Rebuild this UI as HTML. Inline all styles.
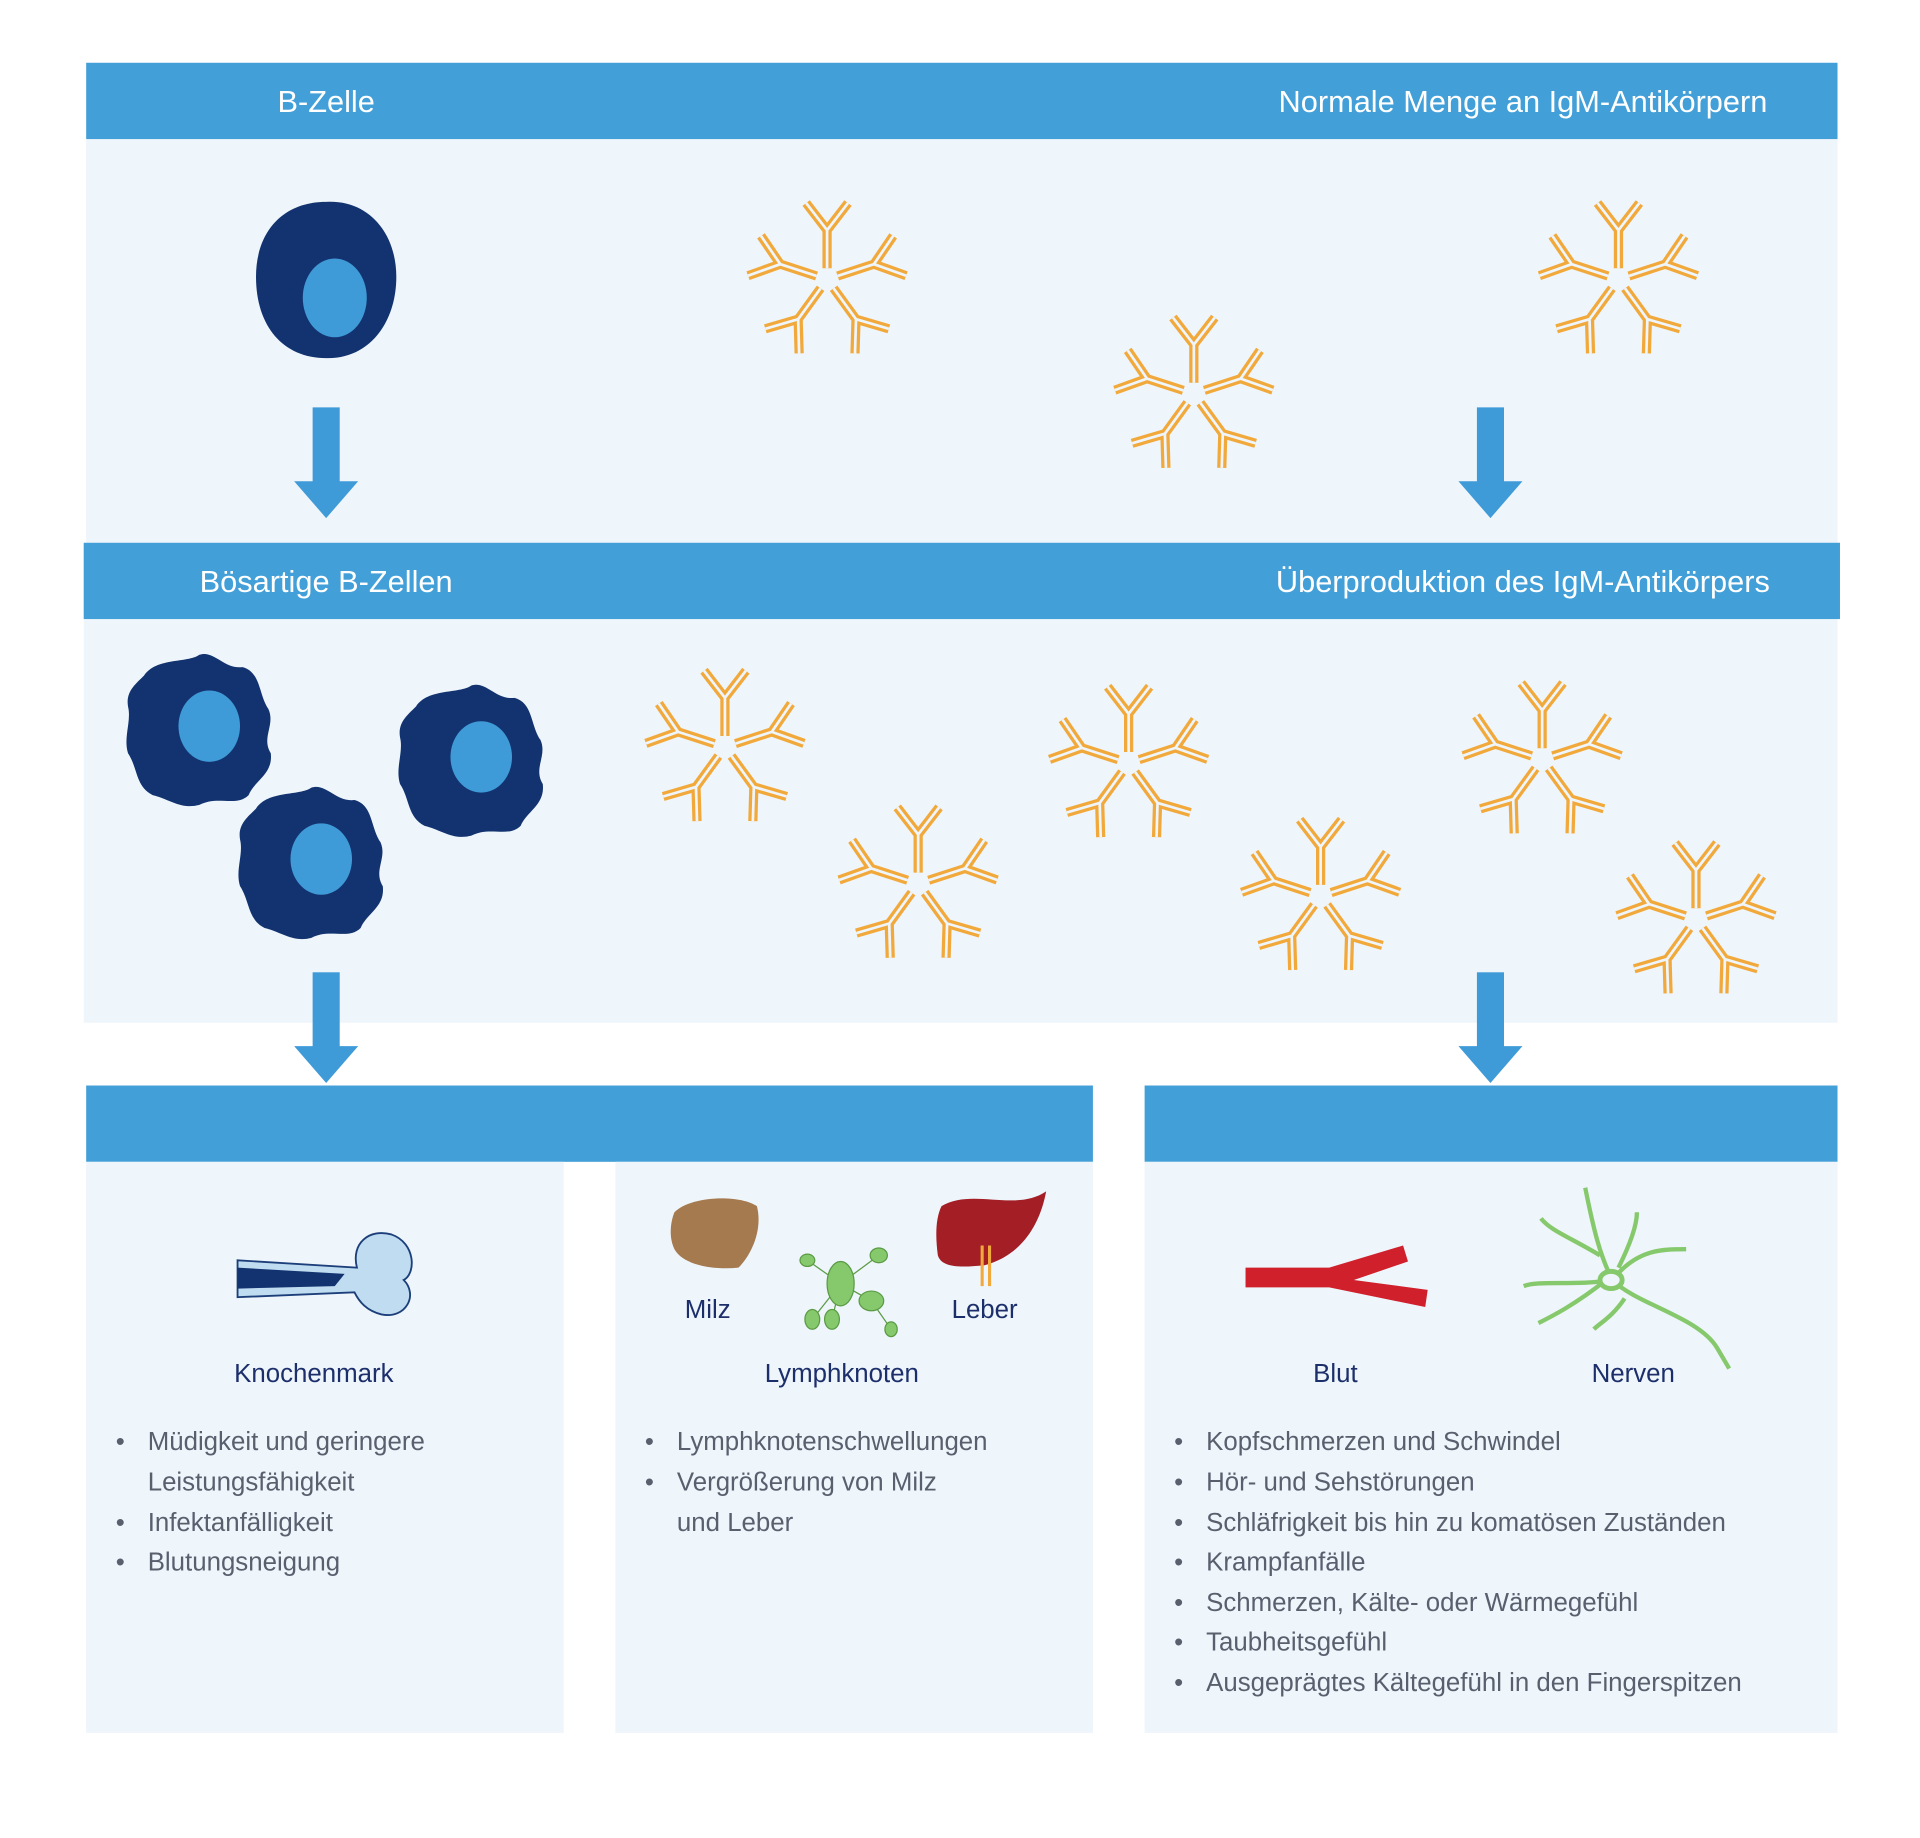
<!DOCTYPE html>
<html><head><meta charset="utf-8"><style>
html,body{margin:0;padding:0;background:#fff;width:1920px;height:1838px;overflow:hidden}
svg{display:block}
text{font-family:"Liberation Sans",sans-serif}
.h{fill:#fff;font-size:25px}
.l{fill:#1c2f6b;font-size:21px}
.b{fill:#5a5f6e;font-size:21px}
</style></head><body>
<svg width="1920" height="1838" viewBox="0 0 1560 1493.4" xmlns="http://www.w3.org/2000/svg">
<defs>
<g id="y">
<path d="M0,-9 L0,-40 M0,-40 L-17,-62 M0,-40 L17,-62" fill="none" stroke="#f2a93b" stroke-width="7.5" stroke-linecap="butt"/>
<path d="M0,-9 L0,-40 M0,-40 L-17,-62 M0,-40 L17,-62" fill="none" stroke="#eef5fb" stroke-width="2.2"/>
</g>
<g id="s">
<use href="#y"/><use href="#y" transform="rotate(72)"/><use href="#y" transform="rotate(144)"/>
<use href="#y" transform="rotate(216)"/><use href="#y" transform="rotate(288)"/>
</g>
<g id="arrow"><rect x="-11" y="0" width="22" height="62" fill="#3f9ad8"/><polygon points="-26,60 26,60 0,90" fill="#3f9ad8"/></g>
<g id="mc">
<path d="M-45,-45 C-35,-60 -10,-55 0,-62 C12,-66 20,-50 35,-52 C50,-48 48,-30 56,-18 C62,-5 50,5 58,18 C60,35 45,40 40,52 C30,62 15,52 0,60 C-15,64 -25,55 -38,52 C-52,45 -50,30 -58,18 C-62,5 -55,-8 -58,-20 C-60,-32 -52,-38 -45,-45Z" fill="#12336f"/>
<ellipse cx="8" cy="-4" rx="25" ry="29" fill="#3f9ad8"/>
</g>
</defs>
<rect x="70" y="113" width="1423" height="328" fill="#eef5fb"/>
<rect x="68" y="503" width="1425" height="328" fill="#eef5fb"/>
<rect x="70" y="51" width="1423" height="62" fill="#429fd8"/>
<rect x="68" y="441" width="1427" height="62" fill="#429fd8"/>
<text class="h" x="265" y="91" text-anchor="middle">B-Zelle</text>
<text class="h" x="1436" y="91" text-anchor="end">Normale Menge an IgM-Antikörpern</text>
<text class="h" x="265" y="481" text-anchor="middle">Bösartige B-Zellen</text>
<text class="h" x="1438" y="481" text-anchor="end">Überproduktion des IgM-Antikörpers</text>

<path d="M265,164 C300,162 322,190 322,225 C322,262 300,292 265,291 C230,291 208,265 208,225 C208,188 230,164 265,164Z" fill="#12336f"/>
<ellipse cx="272" cy="242" rx="26" ry="32" fill="#3f9ad8"/>
<use href="#mc" x="162" y="594"/><use href="#mc" x="253" y="702"/><use href="#mc" x="383" y="619"/>

<use href="#s" x="672" y="227"/><use href="#s" x="970" y="320"/><use href="#s" x="1315" y="227"/>
<use href="#s" x="589" y="607"/><use href="#s" x="746" y="718"/><use href="#s" x="917" y="620"/>
<use href="#s" x="1073" y="728"/><use href="#s" x="1253" y="617"/><use href="#s" x="1378" y="747"/>

<use href="#arrow" x="265" y="331"/><use href="#arrow" x="1211" y="331"/>
<use href="#arrow" x="265" y="790"/><use href="#arrow" x="1211" y="790"/>

<rect x="70" y="882" width="818" height="62" fill="#429fd8"/>
<rect x="930" y="882" width="563" height="62" fill="#429fd8"/>
<rect x="70" y="944" width="388" height="464" fill="#eef5fb"/>
<rect x="500" y="944" width="388" height="464" fill="#eef5fb"/>
<rect x="930" y="944" width="563" height="464" fill="#eef5fb"/>

<path d="M193,1024 L290,1030 C285,1010 300,998 318,1003 C338,1010 338,1035 328,1040 C340,1052 330,1072 310,1068 C298,1065 292,1058 288,1050 L193,1054Z" fill="#bfdcf1" stroke="#1c3f7a" stroke-width="1.5"/>
<path d="M193,1030 L280,1035 L272,1045 L193,1047Z" fill="#12336f"/>
<path d="M548,985 C560,972 600,970 615,980 C620,1000 610,1020 600,1030 C580,1032 555,1028 548,1015 C543,1005 545,992 548,985Z" fill="#a57a4f"/>
<g stroke="#5a9a44" stroke-width="1" fill="none"><path d="M683,1043 L656,1024 M683,1043 L714,1020 M683,1043 L708,1057 L724,1080 M683,1043 L660,1072 M683,1043 L676,1072"/></g>
<g fill="#86c96c" stroke="#5a9a44" stroke-width="1"><ellipse cx="683" cy="1043" rx="11" ry="18"/><ellipse cx="656" cy="1024" rx="6" ry="5"/><ellipse cx="714" cy="1020" rx="7" ry="6"/><ellipse cx="708" cy="1057" rx="10" ry="8"/><ellipse cx="660" cy="1072" rx="6" ry="8"/><ellipse cx="676" cy="1072" rx="6" ry="8"/><ellipse cx="724" cy="1080" rx="5" ry="6"/></g>
<path d="M765,980 C790,965 825,985 850,968 C845,995 830,1020 800,1028 C780,1030 765,1030 762,1020 C760,1005 760,990 765,980Z" fill="#a31f25"/>
<path d="M798,1012 L798,1045 M804,1012 L804,1045" stroke="#f2a93b" stroke-width="2.5"/>
<text class="l" x="575" y="1071" text-anchor="middle">Milz</text>
<text class="l" x="800" y="1071" text-anchor="middle">Leber</text>
<path d="M1012,1030 L1080,1030 L1140,1012 L1144,1025 L1100,1040 L1160,1048 L1158,1062 L1080,1046 L1012,1046Z" fill="#d0202b"/>
<g fill="none" stroke="#86c96c" stroke-width="3.5"><path d="M1288,965 C1295,1000 1300,1020 1310,1040 C1330,1060 1380,1070 1395,1095 L1405,1112"/><path d="M1310,1040 C1280,1045 1250,1040 1238,1045"/><path d="M1310,1040 C1330,1015 1350,1015 1370,1015"/><path d="M1305,1040 C1280,1060 1260,1070 1250,1075"/><path d="M1300,1020 C1275,1005 1260,1000 1252,990"/><path d="M1315,1030 C1325,1010 1330,995 1330,985"/><path d="M1320,1055 C1310,1070 1300,1075 1295,1080"/></g>
<ellipse cx="1309" cy="1040" rx="9" ry="7" fill="#eef5fb" stroke="#86c96c" stroke-width="4"/>

<text class="l" x="255" y="1123" text-anchor="middle">Knochenmark</text>
<text class="l" x="684" y="1123" text-anchor="middle">Lymphknoten</text>
<text class="l" x="1085" y="1123" text-anchor="middle">Blut</text>
<text class="l" x="1327" y="1123" text-anchor="middle">Nerven</text>

<g class="b">
<text x="94" y="1178">•</text><text x="120" y="1178">Müdigkeit und geringere</text>
<text x="120" y="1211">Leistungsfähigkeit</text>
<text x="94" y="1244">•</text><text x="120" y="1244">Infektanfälligkeit</text>
<text x="94" y="1276">•</text><text x="120" y="1276">Blutungsneigung</text>
<text x="524" y="1178">•</text><text x="550" y="1178">Lymphknotenschwellungen</text>
<text x="524" y="1211">•</text><text x="550" y="1211">Vergrößerung von Milz</text>
<text x="550" y="1244">und Leber</text>
<text x="954" y="1178">•</text><text x="980" y="1178">Kopfschmerzen und Schwindel</text>
<text x="954" y="1211">•</text><text x="980" y="1211">Hör- und Sehstörungen</text>
<text x="954" y="1244">•</text><text x="980" y="1244">Schläfrigkeit bis hin zu komatösen Zuständen</text>
<text x="954" y="1276">•</text><text x="980" y="1276">Krampfanfälle</text>
<text x="954" y="1309">•</text><text x="980" y="1309">Schmerzen, Kälte- oder Wärmegefühl</text>
<text x="954" y="1341">•</text><text x="980" y="1341">Taubheitsgefühl</text>
<text x="954" y="1374">•</text><text x="980" y="1374">Ausgeprägtes Kältegefühl in den Fingerspitzen</text>
</g>
</svg>
</body></html>
